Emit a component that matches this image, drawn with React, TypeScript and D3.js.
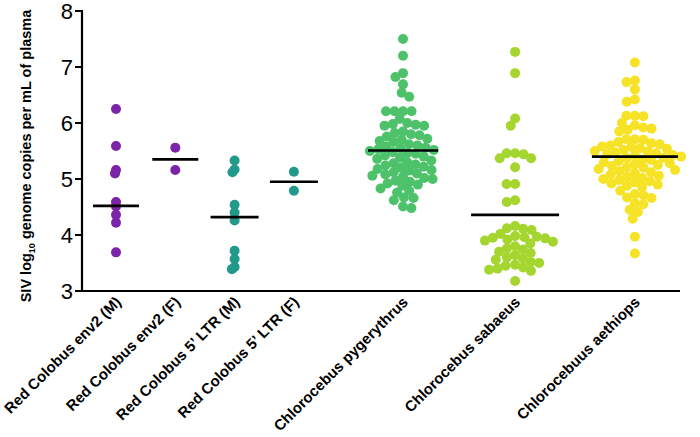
import React from "react";
import * as d3 from "d3";

// ---------- DATA ----------
const categories = [
  "Red Colobus env2 (M)",
  "Red Colobus env2 (F)",
  "Red Colobus 5\u2019 LTR (M)",
  "Red Colobus 5\u2019 LTR (F)",
  "Chlorocebus pygerythrus",
  "Chlorocebus sabaeus",
  "Chlorocebuus aethiops",
];

const env2M = [6.25, 5.59, 5.16, 5.1, 4.59, 4.51, 4.36, 4.22, 3.69];
const env2F = [5.56, 5.16];
const ltrM = [5.33, 5.17, 5.12, 4.54, 4.4, 4.26, 3.72, 3.57, 3.43, 3.39];
const ltrF = [5.13, 4.79];
const pygerythrus = [
  7.5, 7.2, 6.89, 6.82, 6.69, 6.54, 6.47, 6.21, 6.21, 6.21, 6.21, 6.07, 6.0,
  5.98, 5.97, 5.95, 5.95, 5.85, 5.82, 5.8, 5.78, 5.76, 5.72, 5.7, 5.68, 5.66,
  5.62, 5.6, 5.58, 5.56, 5.55, 5.53, 5.52, 5.5, 5.48, 5.46, 5.45, 5.42, 5.4,
  5.38, 5.36, 5.33, 5.3, 5.28, 5.26, 5.24, 5.22, 5.2, 5.18, 5.16, 5.15, 5.12,
  5.1, 5.08, 5.06, 5.04, 5.02, 5.0, 4.97, 4.95, 4.92, 4.9, 4.88, 4.83, 4.79,
  4.76, 4.67, 4.66, 4.62, 4.51, 4.48,
];
const sabaeus = [
  7.27, 6.89, 6.08, 5.95, 5.46, 5.46, 5.44, 5.37, 5.37, 5.21, 4.91, 4.91, 4.62,
  4.59, 4.16, 4.12, 4.11, 4.09, 4.02, 3.98, 3.97, 3.96, 3.95, 3.94, 3.92, 3.9,
  3.88, 3.85, 3.8, 3.76, 3.74, 3.7, 3.68, 3.64, 3.6, 3.58, 3.56, 3.52, 3.5,
  3.47, 3.45, 3.42, 3.4, 3.38, 3.36, 3.18,
];
const aethiops = [
  7.08, 6.76, 6.73, 6.6, 6.42, 6.38, 6.13, 6.13, 6.12, 6.0, 5.96, 5.92, 5.9,
  5.88, 5.85, 5.71, 5.71, 5.7, 5.66, 5.64, 5.62, 5.6, 5.58, 5.57, 5.55, 5.54,
  5.52, 5.5, 5.49, 5.47, 5.46, 5.44, 5.43, 5.42, 5.4, 5.38, 5.37, 5.35, 5.34,
  5.32, 5.3, 5.28, 5.26, 5.25, 5.23, 5.21, 5.2, 5.18, 5.16, 5.14, 5.12, 5.1,
  5.08, 5.06, 5.04, 5.02, 5.0, 4.98, 4.96, 4.94, 4.92, 4.9, 4.88, 4.86, 4.79,
  4.73, 4.71, 4.67, 4.66, 4.57, 4.55, 4.45, 4.41, 4.29, 3.97, 3.67,
];
const seriesValues = [env2M, env2F, ltrM, ltrF, pygerythrus, sabaeus, aethiops];
const centerLines = [4.52, 5.35, 4.32, 4.95, 5.51, 4.36, 5.4];
const yTicks = [3, 4, 5, 6, 7, 8];

// ---------- LAYOUT / STYLE ----------
const colors = ["#7B24A8", "#22998A", "#4DC26B", "#A5D630", "#F6E226"];
const groupColors = [colors[0], colors[0], colors[1], colors[1], colors[2], colors[3], colors[4]];
const slots = [0, 1, 2, 3, 4.84, 6.73, 8.75];
const lineHalf = [23, 23, 24, 24, 35, 44, 43];
const swarmDist = [3.5, 3.5, 3.5, 3.5, 8.5, 8.5, 8.5];
const W = 700;
const H = 437;
const R = 5;

const y = d3.scaleLinear().domain([3, 8]).range([291, 11]);
const x = d3.scaleLinear().domain([0, 1]).range([116, 175.3]);

function swarm(values: number[], D: number): { v: number; dx: number }[] {
  const sorted = [...values].sort((a, b) => b - a);
  const placed: { py: number; dx: number; v: number }[] = [];
  for (const v of sorted) {
    const py = y(v);
    const near = placed.filter((p) => Math.abs(p.py - py) < D);
    const cands = [0];
    for (const p of near) {
      const off = Math.sqrt(D * D - (p.py - py) ** 2);
      cands.push(p.dx + off + 0.01, p.dx - off - 0.01);
    }
    cands.sort((a, b) => Math.abs(a) - Math.abs(b) || a - b);
    let chosen = 0;
    for (const c of cands) {
      const ok = near.every((p) => (p.dx - c) ** 2 + (p.py - py) ** 2 >= D * D - 0.05);
      if (ok) {
        chosen = c;
        break;
      }
    }
    placed.push({ py, dx: chosen, v });
  }
  return placed.map((p) => ({ v: p.v, dx: p.dx }));
}

export default function App() {
  const font = "'Liberation Sans', Arial, sans-serif";
  return (
    <svg
      width={W}
      height={H}
      style={{ position: "absolute", left: 0, top: 0, background: "#fff" }}
      fontFamily={font}
    >
      {/* points */}
      {seriesValues.map((vals, gi) => {
        const cx = x(slots[gi]);
        return (
          <g key={"g" + gi}>
            {swarm(vals, swarmDist[gi]).map((p, i) => (
              <circle key={i} cx={cx + p.dx} cy={y(p.v)} r={R} fill={groupColors[gi]} />
            ))}
          </g>
        );
      })}
      {/* center lines */}
      {centerLines.map((v, gi) => {
        const cx = x(slots[gi]);
        return (
          <line
            key={"m" + gi}
            x1={cx - lineHalf[gi]}
            x2={cx + lineHalf[gi]}
            y1={y(v)}
            y2={y(v)}
            stroke="#000"
            strokeWidth={2.6}
          />
        );
      })}
      {/* y axis */}
      <line x1={82} x2={82} y1={y(8) - 1} y2={y(3) + 1} stroke="#000" strokeWidth={2.2} />
      {yTicks.map((t) => (
        <g key={"t" + t}>
          <line x1={75} x2={82} y1={y(t)} y2={y(t)} stroke="#000" strokeWidth={2} />
          <text x={73} y={y(t)} dy="0.36em" textAnchor="end" fontSize={22} fill="#000">
            {t}
          </text>
        </g>
      ))}
      {/* x axis */}
      <line x1={81} x2={680} y1={y(3)} y2={y(3)} stroke="#000" strokeWidth={2.2} />
      {categories.map((c, gi) => {
        const cx = x(slots[gi]) + 6;
        return (
          <text
            key={"c" + gi}
            transform={`translate(${cx},303) rotate(-45)`}
            textAnchor="end"
            fontSize={15}
            fontWeight="bold"
            fill="#000"
          >
            {c}
          </text>
        );
      })}
      {/* y label */}
      <text
        transform="translate(31,156) rotate(-90)"
        textAnchor="middle"
        fontSize={14.5}
        fontWeight="bold"
        fill="#000"
      >
        SIV log
        <tspan fontSize={9} dy={4}>10</tspan>
        <tspan dy={-4}> genome copies per mL of plasma</tspan>
      </text>
    </svg>
  );
}
